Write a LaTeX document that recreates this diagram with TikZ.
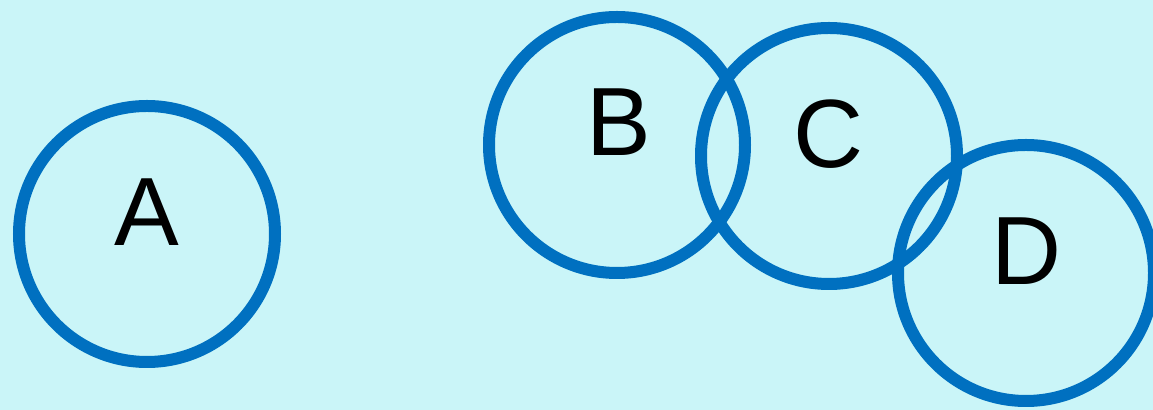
\documentclass[tikz,border=0pt]{standalone}
\usepackage{fontspec}
\setmainfont{Liberation Sans}
\usetikzlibrary{positioning}
\definecolor{ringblue}{HTML}{0070C0}
\definecolor{seacyan}{HTML}{CAF5F8}

\begin{document}
\begin{tikzpicture}[
    x=0.5pt, y=-0.5pt,
    ring/.style={circle, draw=ringblue, line width=6pt, inner sep=0pt,
                 minimum size=128pt},
    letter/.style={font=\fontsize{48.5}{50}\selectfont, text=black, inner sep=0pt},
  ]

  % Background
  \useasboundingbox (0,0) rectangle (1153,410);
  \fill[seacyan] (0,0) rectangle (1153,410);

  % Rings
  \node[ring] (ringA) at (147,234) {};
  \node[ring] (ringB) at (617,145) {};
  \node[ring] (ringC) at (829,156) {};
  \node[ring] (ringD) at (1026,273) {};

  % Labels
  \node[letter] (labA) at (147,212) {A};
  \node[letter] (labB) at (619,122) {B};
  \node[letter] (labC) at (829,134) {C};
  \node[letter] (labD) at (1027,251) {D};

\end{tikzpicture}
\end{document}
